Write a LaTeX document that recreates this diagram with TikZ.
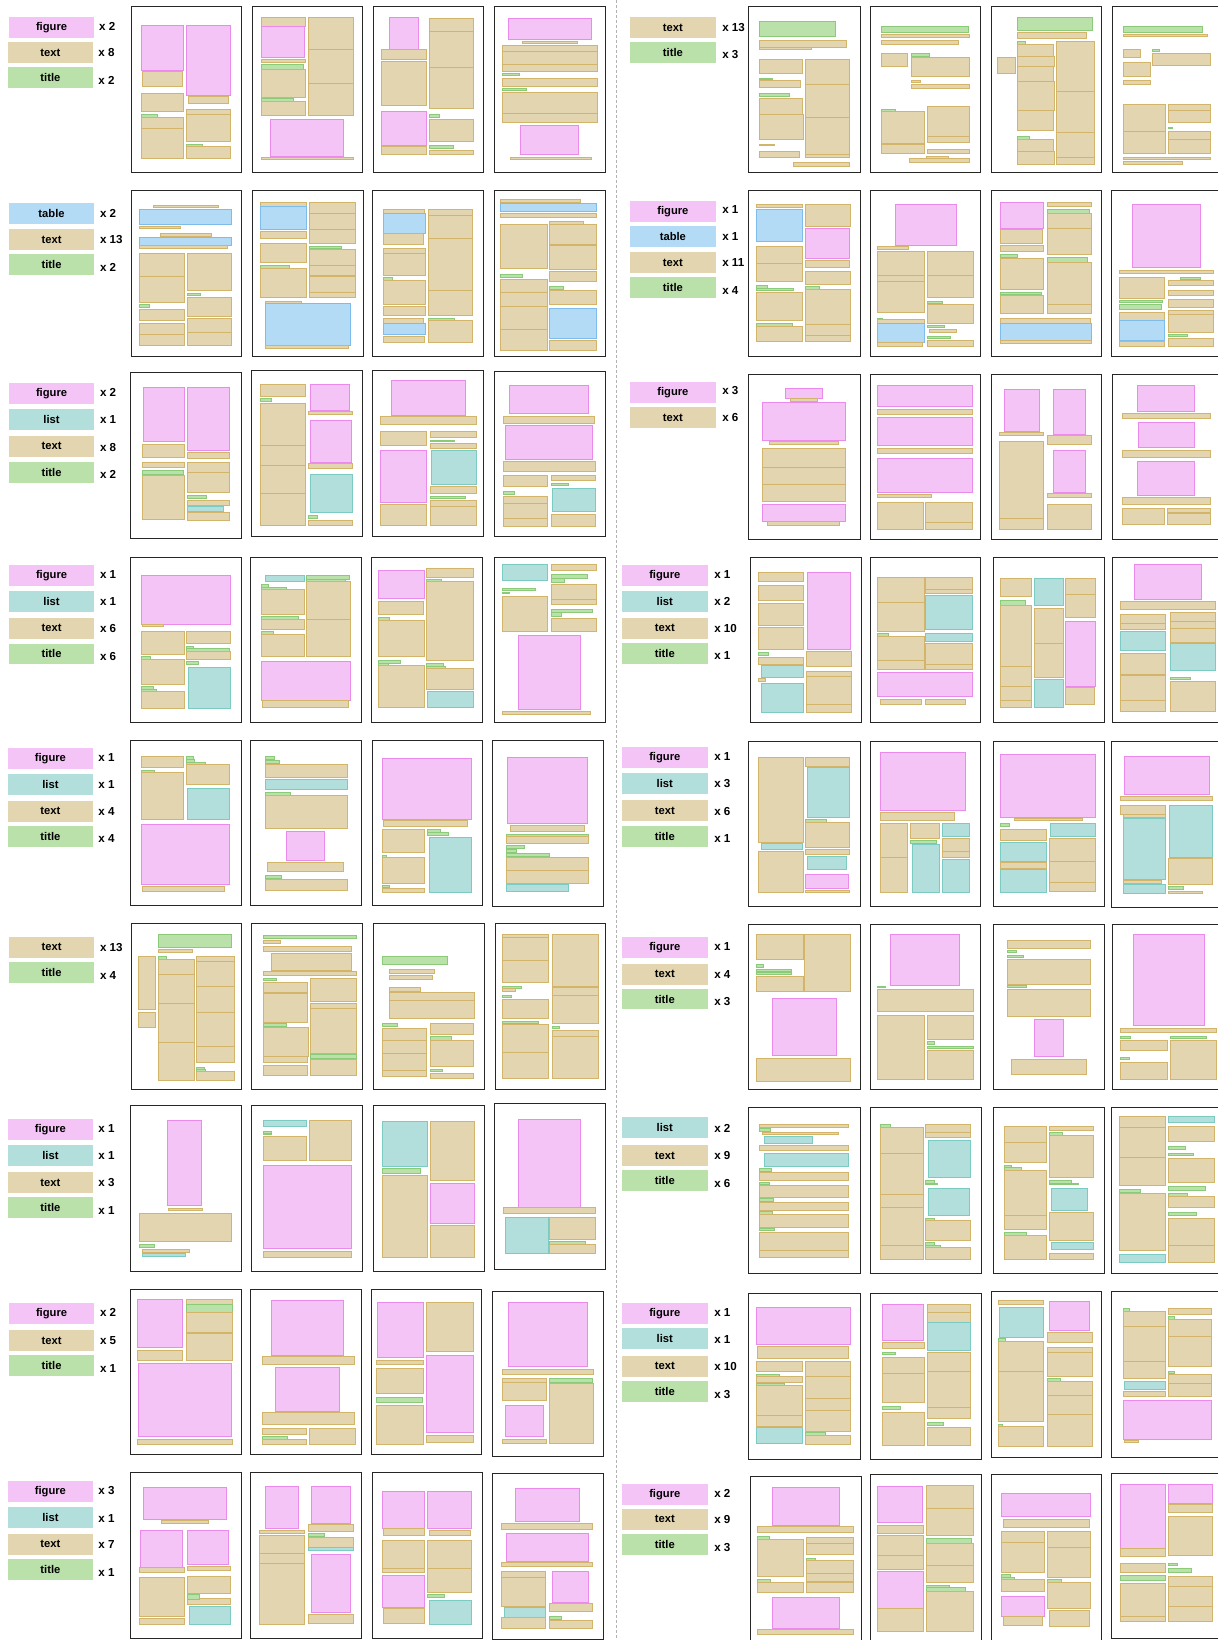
\documentclass[tikz,border=0pt]{standalone}
\usepackage{fontspec}
\setmainfont{Liberation Sans}
\definecolor{figF}{HTML}{F5C4F7}\definecolor{figD}{HTML}{EA8AEA}
\definecolor{txtF}{HTML}{E3D5AF}\definecolor{txtD}{HTML}{D2B46A}
\definecolor{ttlF}{HTML}{BBE1AB}\definecolor{ttlD}{HTML}{8ACA78}
\definecolor{lstF}{HTML}{B2DFDB}\definecolor{lstD}{HTML}{7CCBC3}
\definecolor{tabF}{HTML}{B3DBF6}\definecolor{tabD}{HTML}{7EBDEB}
\tikzset{
 spage/.style={draw=black!85,line width=0.5pt,fill=white},
 sfig/.style={fill=figF,draw=figD,line width=0.35pt},
 stxt/.style={fill=txtF,draw=txtD,line width=0.35pt},
 sttl/.style={fill=ttlF,draw=ttlD,line width=0.35pt},
 slst/.style={fill=lstF,draw=lstD,line width=0.35pt},
 stab/.style={fill=tabF,draw=tabD,line width=0.35pt},
 lfig/.style={fill=figF},ltxt/.style={fill=txtF},lttl/.style={fill=ttlF},
 llst/.style={fill=lstF},ltab/.style={fill=tabF},
 lbl/.style={font=\fontsize{5.6}{6.5}\selectfont\bfseries,inner sep=0pt},
 cnt/.style={font=\fontsize{5.8}{6.5}\selectfont\bfseries,inner sep=0pt,anchor=west},
 Lcol/.style={xscale=0.392157,yscale=0.333333},
 Rcol/.style={xscale=0.384615,yscale=0.333333}
}
\newcommand\xP[4]{\draw[spage] (#1,#2) rectangle (#3,#4);}
\newcommand\xF[4]{\filldraw[sfig] (#1,#2) rectangle (#3,#4);}
\newcommand\xT[4]{\filldraw[stxt] (#1,#2) rectangle (#3,#4);}
\newcommand\xG[4]{\filldraw[sttl] (#1,#2) rectangle (#3,#4);}
\newcommand\xL[4]{\filldraw[slst] (#1,#2) rectangle (#3,#4);}
\newcommand\xB[4]{\filldraw[stab] (#1,#2) rectangle (#3,#4);}
\newcommand\lgbox[7]{\fill[#2] (#3,#4) rectangle (#5,#6);
  \node[lbl] (#1) at ({(#3+#5)/2},{(#4+#6)/2}) {#7};}
\newcommand\lgcnt[4]{\node[cnt] (#1) at (#2,#3) {#4};}
\begin{document}
\begin{tikzpicture}[x=0.5pt,y=-0.5pt]
\useasboundingbox (0,0) rectangle (1217,1640);
\fill[white] (0,0) rectangle (1217,1640);
\draw[black!30,line width=0.5pt,dash pattern=on 1.5pt off 1pt] (616,0) -- (616,1640);
% ================= LEFT COLUMN =================
\begin{scope}[shift={(0,0)},Lcol]
\lgbox{a1}{lfig}{23}{52}{240}{113}{figure}\lgcnt{a1c}{252}{80}{x 2}
\lgbox{a2}{ltxt}{20}{127}{237}{188}{text}\lgcnt{a2c}{250}{157}{x 8}
\lgbox{a3}{lttl}{20}{202}{237}{263}{title}\lgcnt{a3c}{250}{240}{x 2}
\xP{335}{20}{617}{517}
\xF{360}{75}{468}{212}\xF{474}{75}{588}{287}\xT{362}{215}{466}{258}\xT{360}{280}{468}{335}
\xG{360}{342}{401}{352}\xT{360}{352}{468}{385}\xT{360}{385}{468}{475}\xT{480}{289}{583}{310}
\xT{474}{327}{588}{343}\xT{474}{343}{588}{425}\xG{474}{432}{517}{442}\xT{474}{440}{588}{475}
\xP{643}{20}{925}{517}
\xT{666}{52}{779}{80}\xF{666}{80}{777}{172}\xT{666}{177}{779}{188}\xG{666}{193}{774}{208}
\xT{666}{208}{779}{292}\xG{666}{295}{749}{304}\xT{666}{304}{779}{347}\xT{786}{52}{900}{148}
\xT{786}{148}{900}{250}\xT{786}{250}{900}{347}\xF{689}{358}{876}{470}\xT{666}{471}{900}{479}
\xP{952}{20}{1233}{517}
\xF{993}{52}{1066}{147}\xT{972}{148}{1086}{177}\xT{972}{184}{1086}{317}\xF{972}{334}{1086}{437}
\xT{972}{440}{1086}{464}\xT{1095}{55}{1207}{94}\xT{1095}{94}{1207}{202}\xT{1095}{202}{1207}{324}
\xG{1095}{343}{1121}{352}\xT{1095}{357}{1207}{425}\xG{1095}{436}{1157}{446}\xT{1095}{451}{1207}{464}
\xP{1261}{20}{1544}{517}
\xF{1296}{55}{1508}{119}\xT{1333}{125}{1471}{131}\xT{1281}{136}{1524}{154}\xT{1281}{154}{1524}{193}
\xT{1281}{193}{1524}{214}\xG{1281}{219}{1325}{227}\xT{1281}{235}{1524}{258}\xG{1281}{265}{1343}{270}
\xT{1281}{277}{1524}{340}\xT{1281}{340}{1524}{367}\xF{1328}{375}{1475}{463}\xT{1301}{471}{1507}{479}
% row 2
\lgbox{b1}{ltab}{23}{609}{240}{671}{table}\lgcnt{b1c}{254}{640}{x 2}
\lgbox{b2}{ltxt}{23}{688}{240}{749}{text}\lgcnt{b2c}{254}{718}{x 13}
\lgbox{b3}{lttl}{23}{763}{240}{825}{title}\lgcnt{b3c}{254}{802}{x 2}
\xP{335}{572}{617}{1068}
\xT{391}{616}{557}{623}\xB{355}{627}{591}{673}\xT{355}{678}{459}{684}\xT{409}{700}{540}{710}
\xB{355}{712}{591}{736}\xT{355}{736}{580}{745}\xT{355}{760}{469}{829}\xT{355}{829}{469}{907}
\xT{478}{760}{591}{871}\xG{478}{880}{510}{887}\xT{478}{891}{591}{949}\xG{355}{913}{381}{923}
\xT{355}{927}{469}{962}\xT{355}{970}{469}{1003}\xT{355}{1003}{469}{1037}\xT{478}{954}{591}{996}
\xT{478}{996}{591}{1037}
\xP{645}{572}{927}{1068}
\xT{664}{606}{780}{620}\xB{664}{620}{780}{689}\xT{664}{693}{780}{716}\xT{664}{731}{780}{788}
\xG{664}{797}{737}{804}\xT{664}{804}{780}{892}\xT{789}{606}{907}{640}\xT{789}{640}{907}{688}
\xT{789}{688}{907}{729}\xG{789}{738}{870}{745}\xT{789}{747}{907}{795}\xT{789}{795}{907}{825}
\xT{789}{828}{907}{876}\xT{789}{876}{907}{891}\xT{677}{903}{769}{910}\xB{677}{910}{893}{1036}
\xT{677}{1036}{889}{1044}
\xP{950}{572}{1233}{1068}
\xT{977}{627}{1083}{641}\xB{977}{641}{1085}{700}\xT{977}{700}{1079}{732}\xT{977}{744}{1085}{760}
\xT{977}{760}{1085}{825}\xG{977}{832}{1001}{841}\xT{977}{841}{1085}{914}\xT{977}{918}{1085}{946}
\xT{977}{955}{1079}{970}\xB{977}{970}{1085}{1004}\xT{977}{1008}{1083}{1027}\xT{1092}{627}{1205}{646}
\xT{1092}{646}{1205}{716}\xT{1092}{716}{1205}{871}\xT{1092}{871}{1205}{946}\xG{1092}{955}{1159}{962}
\xT{1092}{962}{1205}{1027}
\xP{1260}{572}{1544}{1068}
\xT{1277}{598}{1480}{608}\xB{1277}{611}{1520}{635}\xT{1277}{640}{1520}{651}\xT{1277}{672}{1395}{805}
\xG{1277}{824}{1333}{831}\xT{1277}{837}{1395}{877}\xT{1277}{877}{1395}{920}\xT{1277}{920}{1395}{988}
\xT{1277}{988}{1395}{1051}\xT{1402}{663}{1488}{672}\xT{1402}{672}{1520}{732}\xT{1402}{735}{1520}{809}
\xT{1402}{814}{1520}{844}\xG{1402}{860}{1437}{868}\xT{1402}{870}{1520}{913}\xB{1402}{926}{1520}{1016}
\xT{1402}{1020}{1520}{1051}
\end{scope}
\begin{scope}[shift={(0,362)},Lcol]
\lgbox{c1}{lfig}{23}{63}{240}{125}{figure}\lgcnt{c1c}{254}{90}{x 2}
\lgbox{c2}{llst}{23}{142}{240}{204}{list}\lgcnt{c2c}{254}{172}{x 1}
\lgbox{c3}{ltxt}{23}{222}{240}{284}{text}\lgcnt{c3c}{254}{255}{x 8}
\lgbox{c4}{lttl}{23}{300}{240}{362}{title}\lgcnt{c4c}{254}{336}{x 2}
\xP{333}{32}{615}{529}
\xF{365}{75}{471}{239}\xF{479}{75}{585}{265}\xT{362}{247}{471}{286}\xT{479}{270}{585}{290}
\xT{362}{300}{471}{317}\xG{362}{324}{468}{336}\xT{362}{339}{471}{472}\xT{479}{300}{585}{330}
\xT{479}{330}{585}{392}\xG{479}{401}{525}{410}\xT{479}{414}{585}{430}\xL{479}{432}{570}{449}
\xT{479}{452}{585}{475}
\xP{642}{25}{925}{522}
\xT{663}{67}{778}{102}\xG{663}{108}{692}{118}\xT{663}{125}{778}{250}\xT{663}{250}{778}{310}
\xT{663}{310}{778}{395}\xT{663}{395}{778}{490}\xF{791}{67}{891}{145}\xT{786}{148}{898}{158}
\xF{791}{176}{896}{302}\xT{786}{305}{898}{318}\xL{791}{336}{898}{452}\xG{786}{460}{810}{470}
\xT{786}{474}{898}{490}
\xP{950}{25}{1233}{522}
\xF{998}{55}{1187}{160}\xT{970}{163}{1215}{188}\xT{970}{207}{1088}{251}\xT{1097}{207}{1215}{227}
\xG{1097}{234}{1159}{239}\xT{1097}{245}{1215}{258}\xF{970}{265}{1086}{422}\xL{1100}{266}{1215}{368}
\xT{1097}{372}{1215}{394}\xG{1097}{402}{1187}{410}\xT{1097}{415}{1215}{432}\xT{970}{427}{1088}{490}
\xT{1097}{432}{1215}{490}
\xP{1261}{28}{1544}{522}
\xF{1300}{70}{1500}{155}\xT{1283}{163}{1516}{185}\xF{1289}{190}{1510}{292}\xT{1283}{297}{1518}{328}
\xT{1283}{340}{1396}{374}\xT{1405}{340}{1518}{355}\xG{1405}{363}{1449}{371}\xG{1283}{389}{1311}{398}
\xT{1283}{403}{1396}{425}\xT{1283}{425}{1396}{468}\xT{1283}{468}{1396}{492}\xL{1409}{378}{1518}{448}
\xT{1405}{457}{1518}{492}
% row 4
\lgbox{d1}{lfig}{23}{609}{240}{671}{figure}\lgcnt{d1c}{254}{637}{x 1}
\lgbox{d2}{llst}{23}{688}{240}{749}{list}\lgcnt{d2c}{254}{718}{x 1}
\lgbox{d3}{ltxt}{23}{768}{240}{830}{text}\lgcnt{d3c}{254}{800}{x 6}
\lgbox{d4}{lttl}{23}{845}{240}{906}{title}\lgcnt{d4c}{254}{882}{x 6}
\xP{333}{585}{615}{1080}
\xF{360}{640}{588}{787}\xT{362}{788}{416}{794}\xT{360}{809}{469}{877}\xT{475}{809}{588}{845}
\xG{475}{852}{494}{860}\xG{475}{860}{585}{868}\xT{475}{868}{588}{892}\xG{360}{883}{384}{892}
\xT{360}{892}{469}{967}\xG{475}{898}{506}{908}\xL{480}{915}{588}{1040}\xG{360}{972}{392}{982}
\xG{360}{982}{399}{987}\xT{360}{988}{469}{1040}
\xP{640}{585}{922}{1080}
\xL{676}{640}{775}{659}\xG{781}{640}{891}{651}\xG{781}{651}{881}{659}\xG{666}{667}{685}{677}
\xG{666}{677}{729}{683}\xT{666}{683}{775}{756}\xT{781}{659}{893}{771}\xT{781}{771}{893}{884}
\xG{666}{762}{760}{771}\xT{666}{771}{775}{803}\xG{666}{809}{696}{817}\xT{666}{817}{775}{884}
\xF{666}{898}{893}{1015}\xT{669}{1015}{888}{1035}
\xP{947}{585}{1230}{1080}
\xF{964}{625}{1083}{710}\xT{1087}{619}{1206}{645}\xG{1087}{652}{1126}{660}\xT{1087}{659}{1206}{894}
\xT{966}{717}{1079}{757}\xG{964}{766}{993}{776}\xT{964}{776}{1083}{883}\xG{964}{895}{1021}{903}
\xG{964}{903}{991}{911}\xT{964}{911}{1083}{1035}\xG{1087}{904}{1131}{912}\xG{1087}{912}{1135}{920}
\xT{1087}{920}{1206}{983}\xL{1090}{988}{1206}{1035}
\xP{1261}{585}{1544}{1080}
\xL{1282}{608}{1396}{656}\xT{1405}{608}{1520}{626}\xG{1405}{636}{1498}{648}\xG{1405}{648}{1440}{660}
\xG{1281}{679}{1366}{684}\xG{1281}{690}{1300}{695}\xT{1281}{703}{1396}{808}\xT{1405}{666}{1520}{711}
\xT{1405}{711}{1520}{727}\xG{1405}{743}{1511}{750}\xG{1405}{752}{1432}{763}\xT{1405}{768}{1520}{808}
\xF{1321}{820}{1480}{1042}\xT{1281}{1047}{1506}{1057}
\end{scope}
\begin{scope}[shift={(0,732)},Lcol]
\lgbox{e1}{lfig}{20}{48}{237}{110}{figure}\lgcnt{e1c}{250}{75}{x 1}
\lgbox{e2}{llst}{20}{126}{237}{188}{list}\lgcnt{e2c}{250}{157}{x 1}
\lgbox{e3}{ltxt}{20}{207}{237}{269}{text}\lgcnt{e3c}{250}{238}{x 4}
\lgbox{e4}{lttl}{20}{283}{237}{344}{title}\lgcnt{e4c}{250}{320}{x 4}
\xP{333}{25}{615}{520}
\xT{360}{72}{468}{106}\xG{475}{72}{494}{82}\xG{475}{82}{496}{90}\xG{475}{90}{523}{98}
\xT{475}{97}{585}{157}\xG{360}{114}{394}{122}\xT{360}{121}{468}{262}\xL{479}{168}{585}{262}
\xF{360}{277}{585}{457}\xT{362}{462}{573}{477}
\xP{640}{25}{922}{520}
\xG{676}{72}{700}{83}\xG{676}{86}{713}{95}\xT{676}{97}{885}{137}\xL{676}{141}{885}{173}
\xG{676}{180}{740}{189}\xT{676}{191}{885}{290}\xF{729}{297}{828}{385}\xT{683}{391}{876}{418}
\xG{676}{430}{718}{440}\xT{676}{442}{885}{474}
\xP{949}{25}{1231}{520}
\xF{975}{78}{1202}{263}\xT{977}{266}{1191}{282}\xT{975}{293}{1083}{361}\xG{1090}{293}{1123}{301}
\xG{1090}{301}{1144}{311}\xL{1095}{317}{1202}{481}\xG{975}{370}{985}{377}\xT{975}{377}{1083}{455}
\xG{975}{461}{993}{467}\xT{975}{468}{1083}{481}
\xP{1256}{25}{1538}{522}
\xF{1294}{75}{1498}{274}\xT{1301}{279}{1491}{298}\xG{1292}{306}{1500}{314}\xT{1292}{314}{1500}{334}
\xG{1292}{340}{1338}{350}\xG{1292}{352}{1317}{362}\xG{1292}{363}{1401}{373}\xT{1292}{375}{1500}{415}
\xT{1292}{415}{1500}{455}\xL{1292}{457}{1450}{478}
% row 6
\lgbox{f1}{ltxt}{23}{615}{240}{677}{text}\lgcnt{f1c}{254}{646}{x 13}
\lgbox{f2}{lttl}{23}{690}{240}{752}{title}\lgcnt{f2c}{254}{729}{x 4}
\xP{335}{575}{617}{1072}
\xG{403}{606}{590}{646}\xT{403}{652}{491}{661}\xT{352}{673}{397}{832}\xT{352}{840}{397}{887}
\xG{403}{673}{423}{681}\xT{403}{681}{496}{727}\xT{403}{727}{496}{813}\xT{403}{813}{496}{931}
\xT{403}{931}{496}{1046}\xT{500}{673}{597}{688}\xT{500}{688}{597}{762}\xT{500}{762}{597}{842}
\xT{500}{842}{597}{943}\xT{500}{943}{597}{991}\xG{500}{1005}{520}{1012}\xG{500}{1012}{524}{1017}
\xT{500}{1017}{597}{1046}
\xP{642}{575}{925}{1072}
\xG{671}{609}{909}{619}\xT{671}{625}{715}{635}\xT{671}{642}{896}{657}\xT{691}{665}{896}{715}
\xT{671}{718}{909}{731}\xG{671}{738}{705}{746}\xT{671}{750}{784}{782}\xT{671}{785}{784}{870}
\xG{671}{874}{730}{884}\xT{671}{885}{787}{972}\xT{671}{972}{784}{991}\xT{671}{1001}{784}{1030}
\xT{792}{738}{909}{808}\xT{792}{813}{909}{828}\xT{792}{828}{909}{963}\xG{792}{966}{909}{979}
\xT{792}{983}{909}{1030}
\xP{952}{575}{1235}{1072}
\xG{975}{672}{1142}{696}\xT{992}{713}{1107}{724}\xT{992}{731}{1103}{743}\xT{992}{767}{1072}{778}
\xT{992}{780}{1209}{806}\xT{992}{806}{1209}{859}\xG{975}{874}{1013}{884}\xT{975}{888}{1087}{925}
\xT{975}{925}{1087}{963}\xT{975}{963}{1087}{1015}\xT{975}{1015}{1087}{1033}\xT{1097}{873}{1207}{908}
\xG{1097}{913}{1151}{925}\xT{1097}{925}{1207}{1003}\xG{1097}{1011}{1127}{1019}\xT{1097}{1023}{1207}{1039}
\xP{1263}{575}{1545}{1072}
\xT{1281}{606}{1399}{617}\xT{1281}{617}{1399}{685}\xT{1281}{685}{1399}{751}\xG{1281}{762}{1329}{768}
\xT{1281}{768}{1315}{779}\xG{1281}{790}{1304}{795}\xT{1281}{801}{1399}{860}\xG{1281}{868}{1373}{875}
\xT{1281}{878}{1399}{960}\xT{1281}{960}{1399}{1038}\xT{1408}{606}{1526}{762}\xT{1408}{766}{1526}{790}
\xT{1408}{790}{1526}{875}\xG{1408}{882}{1427}{888}\xT{1408}{895}{1526}{913}\xT{1408}{913}{1526}{1038}
\end{scope}
\begin{scope}[shift={(0,1097)},Lcol]
\lgbox{g1}{lfig}{20}{66}{237}{128}{figure}\lgcnt{g1c}{250}{93}{x 1}
\lgbox{g2}{llst}{20}{144}{237}{206}{list}\lgcnt{g2c}{250}{174}{x 1}
\lgbox{g3}{ltxt}{20}{226}{237}{288}{text}\lgcnt{g3c}{250}{256}{x 3}
\lgbox{g4}{lttl}{20}{300}{237}{362}{title}\lgcnt{g4c}{250}{340}{x 1}
\xP{333}{26}{615}{522}
\xF{427}{69}{514}{326}\xT{429}{334}{517}{341}\xT{355}{349}{590}{434}\xG{355}{441}{394}{451}
\xT{362}{457}{482}{467}\xL{362}{468}{473}{478}
\xP{642}{26}{925}{522}
\xL{671}{69}{780}{89}\xG{671}{102}{691}{108}\xG{671}{108}{691}{113}\xT{671}{117}{780}{190}
\xT{789}{69}{897}{190}\xF{671}{205}{897}{455}\xT{671}{462}{897}{482}
\xP{952}{26}{1235}{522}
\xL{975}{72}{1089}{208}\xG{975}{213}{1071}{229}\xT{975}{236}{1089}{482}\xT{1097}{72}{1209}{251}
\xF{1097}{258}{1209}{380}\xT{1097}{384}{1209}{482}
\xP{1260}{20}{1544}{516}
\xF{1321}{67}{1481}{330}\xT{1283}{331}{1519}{348}\xL{1289}{362}{1399}{469}\xT{1402}{362}{1519}{428}
\xG{1402}{434}{1492}{443}\xT{1402}{441}{1519}{469}
% row 8
\lgbox{h1}{lfig}{23}{619}{240}{680}{figure}\lgcnt{h1c}{254}{646}{x 2}
\lgbox{h2}{ltxt}{23}{700}{240}{762}{text}\lgcnt{h2c}{254}{731}{x 5}
\lgbox{h3}{lttl}{23}{775}{240}{837}{title}\lgcnt{h3c}{254}{813}{x 1}
\xP{333}{577}{615}{1073}
\xF{350}{607}{465}{752}\xT{350}{760}{466}{790}\xT{474}{607}{593}{623}\xG{474}{623}{593}{645}
\xT{474}{645}{593}{706}\xT{474}{709}{593}{790}\xF{352}{798}{590}{1019}\xT{350}{1027}{593}{1042}
\xP{640}{577}{922}{1073}
\xF{693}{610}{875}{776}\xT{669}{779}{904}{802}\xF{702}{811}{866}{944}\xT{669}{946}{904}{982}
\xT{669}{994}{782}{1013}\xG{669}{1018}{733}{1028}\xT{669}{1028}{782}{1042}\xT{790}{994}{907}{1042}
\xP{947}{577}{1229}{1073}
\xF{961}{615}{1079}{782}\xT{959}{790}{1079}{803}\xT{959}{814}{1079}{890}\xG{959}{901}{1077}{917}
\xT{959}{924}{1079}{1042}\xT{1087}{615}{1207}{764}\xF{1087}{774}{1207}{1007}\xT{1087}{1014}{1207}{1037}
\xP{1257}{584}{1540}{1079}
\xF{1296}{616}{1497}{808}\xT{1281}{817}{1512}{833}\xT{1281}{843}{1392}{855}\xT{1281}{855}{1392}{910}
\xG{1401}{843}{1511}{855}\xT{1401}{858}{1512}{1040}\xF{1289}{925}{1386}{1018}\xT{1281}{1027}{1392}{1040}
\end{scope}
\begin{scope}[shift={(0,1462)},Lcol]
\lgbox{i1}{lfig}{20}{57}{237}{119}{figure}\lgcnt{i1c}{250}{85}{x 3}
\lgbox{i2}{llst}{20}{136}{237}{197}{list}\lgcnt{i2c}{250}{168}{x 1}
\lgbox{i3}{ltxt}{20}{216}{237}{278}{text}\lgcnt{i3c}{250}{246}{x 7}
\lgbox{i4}{lttl}{20}{292}{237}{353}{title}\lgcnt{i4c}{250}{330}{x 1}
\xP{333}{32}{615}{529}
\xF{365}{75}{578}{173}\xT{412}{175}{532}{185}\xF{357}{204}{466}{315}\xT{355}{316}{469}{330}
\xF{477}{204}{583}{308}\xT{477}{313}{588}{326}\xT{355}{345}{469}{462}\xT{355}{468}{469}{488}
\xT{477}{343}{588}{395}\xT{477}{408}{588}{426}\xG{477}{396}{508}{411}\xL{482}{432}{588}{488}
\xP{640}{32}{922}{529}
\xF{677}{72}{762}{200}\xT{661}{204}{777}{215}\xT{661}{220}{777}{275}\xT{661}{275}{777}{305}
\xT{661}{305}{777}{488}\xF{793}{72}{894}{185}\xT{786}{188}{902}{209}\xG{786}{214}{828}{223}
\xT{786}{227}{902}{256}\xL{786}{256}{902}{266}\xF{795}{277}{894}{452}\xT{786}{457}{902}{484}
\xP{949}{32}{1231}{529}
\xF{975}{88}{1083}{200}\xF{1089}{88}{1202}{200}\xT{977}{200}{1081}{220}\xT{1095}{204}{1200}{220}
\xT{975}{235}{1083}{318}\xT{975}{318}{1083}{332}\xT{1089}{235}{1202}{318}\xT{1089}{318}{1202}{392}
\xF{975}{340}{1083}{437}\xG{1089}{397}{1134}{407}\xT{977}{440}{1081}{484}\xL{1095}{414}{1202}{488}
\xP{1256}{35}{1538}{532}
\xF{1314}{78}{1478}{179}\xT{1278}{184}{1511}{203}\xF{1292}{213}{1500}{297}\xT{1278}{300}{1511}{312}
\xT{1278}{327}{1391}{347}\xT{1278}{347}{1391}{434}\xF{1408}{327}{1500}{421}\xL{1286}{436}{1391}{465}
\xT{1400}{424}{1511}{449}\xG{1400}{462}{1431}{472}\xT{1278}{466}{1391}{500}\xT{1400}{474}{1511}{500}
\end{scope}
% ================= RIGHT COLUMN =================
\begin{scope}[shift={(615,0)},Rcol]
\lgbox{j1}{ltxt}{39}{52}{262}{113}{text}\lgcnt{j1c}{278}{82}{x 13}
\lgbox{j2}{lttl}{39}{127}{262}{188}{title}\lgcnt{j2c}{278}{165}{x 3}
\xP{348}{20}{637}{517}
\xG{375}{64}{572}{110}\xT{375}{121}{601}{141}\xT{375}{141}{510}{149}\xT{375}{178}{486}{221}
\xG{375}{234}{408}{239}\xT{375}{242}{481}{263}\xG{375}{280}{452}{290}\xT{375}{296}{486}{343}
\xT{375}{343}{489}{418}\xT{375}{432}{413}{437}\xT{375}{455}{478}{472}\xT{495}{178}{610}{253}
\xT{495}{253}{610}{352}\xT{495}{352}{610}{463}\xT{495}{463}{610}{472}\xT{464}{487}{610}{499}
\xP{663}{20}{951}{517}
\xG{693}{78}{918}{97}\xT{693}{102}{921}{113}\xT{693}{120}{892}{134}\xT{693}{160}{760}{199}
\xG{771}{160}{817}{169}\xT{771}{172}{921}{229}\xT{771}{242}{793}{246}\xT{771}{252}{921}{266}
\xG{693}{327}{729}{333}\xT{693}{334}{804}{430}\xT{693}{432}{804}{461}\xT{812}{319}{921}{409}
\xT{812}{409}{921}{428}\xT{812}{448}{921}{461}\xT{810}{470}{866}{475}\xT{764}{475}{921}{487}
\xP{978}{20}{1266}{517}
\xG{1047}{52}{1240}{90}\xT{1047}{98}{1225}{114}\xG{1047}{125}{1067}{133}\xT{995}{172}{1040}{221}
\xT{1047}{133}{1140}{170}\xT{1047}{170}{1142}{200}\xT{1047}{200}{1140}{245}\xT{1047}{245}{1142}{331}
\xT{1047}{331}{1140}{390}\xG{1047}{408}{1076}{418}\xT{1047}{418}{1140}{455}\xT{1047}{455}{1142}{492}
\xT{1147}{125}{1245}{273}\xT{1147}{273}{1245}{396}\xT{1147}{396}{1245}{472}\xT{1147}{472}{1245}{492}
\xP{1294}{20}{1585}{517}
\xG{1321}{78}{1528}{97}\xT{1321}{102}{1540}{110}\xT{1321}{148}{1365}{172}\xG{1398}{148}{1416}{154}
\xT{1398}{159}{1548}{197}\xT{1321}{186}{1392}{230}\xT{1321}{241}{1392}{254}\xT{1321}{313}{1430}{393}
\xT{1321}{393}{1430}{460}\xT{1438}{313}{1548}{330}\xT{1438}{330}{1548}{367}\xG{1438}{381}{1450}{386}
\xT{1438}{394}{1548}{417}\xT{1438}{417}{1548}{460}\xT{1321}{471}{1548}{479}\xT{1321}{483}{1476}{493}
% row 2
\lgbox{k1}{lfig}{39}{603}{262}{665}{figure}\lgcnt{k1c}{278}{630}{x 1}
\lgbox{k2}{ltab}{39}{679}{262}{741}{table}\lgcnt{k2c}{278}{711}{x 1}
\lgbox{k3}{ltxt}{39}{757}{262}{819}{text}\lgcnt{k3c}{278}{787}{x 11}
\lgbox{k4}{lttl}{39}{832}{262}{894}{title}\lgcnt{k4c}{278}{871}{x 4}
\xP{348}{572}{637}{1068}
\xT{368}{612}{486}{623}\xB{368}{627}{486}{724}\xT{368}{739}{486}{790}\xT{368}{790}{486}{844}
\xG{368}{856}{397}{864}\xG{368}{864}{463}{871}\xT{368}{876}{486}{962}\xG{368}{970}{460}{980}
\xT{368}{980}{486}{1024}\xT{495}{612}{613}{679}\xF{495}{685}{610}{775}\xT{495}{780}{610}{803}
\xT{495}{813}{613}{854}\xG{495}{860}{532}{868}\xT{495}{868}{613}{973}\xT{495}{973}{613}{1007}
\xT{495}{1007}{613}{1024}
\xP{663}{572}{951}{1068}
\xF{729}{612}{887}{737}\xT{683}{739}{762}{749}\xT{683}{754}{804}{825}\xT{683}{825}{804}{845}
\xT{683}{845}{804}{937}\xT{812}{754}{931}{825}\xT{812}{825}{931}{891}\xG{812}{903}{851}{909}
\xT{812}{913}{931}{970}\xG{683}{955}{694}{960}\xT{683}{958}{804}{970}\xB{683}{970}{804}{1028}
\xT{683}{1028}{800}{1039}\xG{812}{975}{856}{981}\xT{816}{988}{887}{998}\xG{812}{1008}{873}{1016}
\xT{812}{1020}{931}{1039}
\xP{978}{572}{1266}{1068}
\xF{1001}{607}{1114}{686}\xT{1001}{688}{1112}{729}\xT{1001}{735}{1114}{755}\xG{1001}{763}{1045}{772}
\xT{1001}{775}{1114}{869}\xG{1001}{876}{1109}{884}\xT{1001}{886}{1114}{941}\xT{1123}{607}{1238}{620}
\xG{1123}{628}{1233}{640}\xT{1123}{640}{1238}{685}\xT{1123}{685}{1238}{764}\xG{1123}{772}{1228}{788}
\xT{1123}{788}{1238}{914}\xT{1123}{914}{1238}{941}\xT{1001}{955}{1236}{971}\xB{1001}{971}{1238}{1022}
\xT{1001}{1022}{1238}{1030}
\xP{1291}{572}{1585}{1068}
\xF{1344}{612}{1522}{802}\xT{1310}{810}{1555}{820}\xG{1470}{832}{1521}{838}\xT{1438}{840}{1555}{857}
\xT{1310}{831}{1427}{895}\xG{1310}{900}{1424}{908}\xG{1310}{912}{1421}{927}\xT{1438}{870}{1555}{885}
\xT{1438}{898}{1555}{922}\xT{1438}{930}{1555}{944}\xT{1438}{944}{1555}{996}\xT{1310}{936}{1427}{962}
\xB{1310}{962}{1427}{1021}\xT{1310}{1023}{1427}{1039}\xG{1438}{1003}{1487}{1009}\xT{1438}{1016}{1555}{1039}
\end{scope}
\begin{scope}[shift={(615,362)},Rcol]
\lgbox{l1}{lfig}{39}{60}{262}{122}{figure}\lgcnt{l1c}{278}{87}{x 3}
\lgbox{l2}{ltxt}{39}{136}{262}{197}{text}\lgcnt{l2c}{278}{166}{x 6}
\xP{348}{37}{637}{533}
\xF{443}{78}{538}{110}\xT{455}{110}{527}{118}\xF{384}{121}{598}{236}\xT{401}{238}{580}{248}
\xT{383}{259}{598}{316}\xT{383}{316}{598}{368}\xT{383}{368}{598}{419}\xF{383}{427}{598}{479}
\xT{397}{479}{584}{490}
\xP{663}{37}{951}{533}
\xF{681}{70}{928}{133}\xT{681}{142}{928}{158}\xF{681}{166}{928}{251}\xT{681}{259}{928}{274}
\xF{681}{289}{928}{392}\xT{681}{397}{822}{407}\xT{681}{422}{802}{502}\xT{808}{422}{928}{481}
\xT{808}{481}{928}{502}
\xP{978}{37}{1266}{533}
\xF{1012}{82}{1103}{208}\xT{999}{211}{1114}{220}\xT{999}{238}{1114}{469}\xT{999}{469}{1114}{502}
\xF{1139}{82}{1223}{217}\xT{1124}{220}{1239}{247}\xF{1139}{265}{1223}{392}\xT{1124}{395}{1239}{407}
\xT{1124}{427}{1239}{502}
\xP{1294}{37}{1585}{533}
\xF{1358}{70}{1507}{148}\xT{1319}{153}{1549}{170}\xF{1361}{180}{1507}{256}\xT{1319}{265}{1549}{286}
\xF{1358}{297}{1507}{399}\xT{1319}{405}{1549}{428}\xT{1319}{438}{1429}{487}\xT{1436}{438}{1549}{450}
\xT{1436}{453}{1549}{487}
% row 4
\lgbox{m1}{lfig}{18}{609}{241}{671}{figure}\lgcnt{m1c}{257}{637}{x 1}
\lgbox{m2}{llst}{18}{688}{241}{749}{list}\lgcnt{m2c}{257}{718}{x 2}
\lgbox{m3}{ltxt}{18}{768}{241}{830}{text}\lgcnt{m3c}{257}{800}{x 10}
\lgbox{m4}{lttl}{18}{843}{241}{905}{title}\lgcnt{m4c}{257}{882}{x 1}
\xP{351}{587}{640}{1082}
\xT{373}{630}{490}{658}\xT{373}{670}{490}{716}\xT{373}{724}{490}{790}\xT{373}{797}{490}{863}
\xG{373}{871}{398}{880}\xT{373}{887}{490}{907}\xL{381}{910}{490}{946}\xT{373}{950}{390}{957}
\xL{381}{964}{490}{1050}\xF{500}{630}{612}{862}\xT{498}{867}{614}{913}\xT{498}{929}{614}{944}
\xT{498}{944}{614}{1028}\xT{498}{1028}{614}{1050}
\xP{663}{585}{951}{1080}
\xT{683}{646}{804}{722}\xT{683}{722}{804}{808}\xG{683}{813}{710}{822}\xT{683}{822}{804}{895}
\xT{683}{895}{804}{922}\xT{808}{646}{928}{683}\xT{808}{683}{928}{694}\xL{808}{700}{928}{802}
\xL{808}{814}{928}{837}\xT{808}{844}{928}{907}\xT{808}{907}{928}{922}\xF{683}{931}{928}{1004}
\xT{689}{1012}{796}{1028}\xT{808}{1012}{911}{1028}
\xP{985}{587}{1273}{1082}
\xT{1003}{650}{1083}{703}\xG{1003}{715}{1067}{731}\xT{1003}{731}{1083}{914}\xT{1003}{914}{1083}{972}
\xT{1003}{972}{1083}{1014}\xT{1003}{1014}{1083}{1036}\xL{1089}{650}{1166}{731}\xT{1089}{739}{1166}{845}
\xT{1089}{845}{1166}{946}\xL{1089}{952}{1166}{1036}\xT{1170}{650}{1250}{697}\xT{1170}{697}{1250}{767}
\xF{1170}{777}{1250}{972}\xT{1170}{975}{1245}{1027}
\xP{1294}{585}{1585}{1080}
\xF{1349}{607}{1525}{712}\xT{1314}{717}{1560}{742}\xT{1314}{757}{1430}{785}\xT{1314}{785}{1430}{803}
\xL{1314}{809}{1430}{865}\xT{1314}{873}{1430}{936}\xT{1314}{939}{1430}{1014}\xT{1314}{1014}{1430}{1048}
\xT{1443}{750}{1560}{778}\xT{1443}{778}{1560}{800}\xT{1443}{800}{1560}{842}\xL{1443}{845}{1560}{925}
\xG{1443}{946}{1497}{953}\xT{1443}{957}{1560}{1048}
\end{scope}
\begin{scope}[shift={(615,732)},Rcol]
\lgbox{n1}{lfig}{18}{45}{241}{107}{figure}\lgcnt{n1c}{257}{72}{x 1}
\lgbox{n2}{llst}{18}{123}{241}{185}{list}\lgcnt{n2c}{257}{156}{x 3}
\lgbox{n3}{ltxt}{18}{205}{241}{266}{text}\lgcnt{n3c}{257}{237}{x 6}
\lgbox{n4}{lttl}{18}{283}{241}{344}{title}\lgcnt{n4c}{257}{318}{x 1}
\xP{348}{27}{637}{522}
\xT{373}{75}{490}{330}\xL{381}{334}{486}{352}\xT{373}{357}{490}{481}\xT{495}{75}{608}{102}
\xL{500}{106}{608}{256}\xG{495}{263}{549}{272}\xT{495}{270}{608}{346}\xT{495}{352}{608}{368}
\xL{500}{372}{601}{411}\xF{495}{427}{606}{469}\xT{495}{474}{608}{481}
\xP{663}{27}{951}{522}
\xF{691}{61}{912}{236}\xT{691}{240}{882}{264}\xT{691}{273}{760}{376}\xT{691}{376}{760}{481}
\xT{769}{273}{842}{320}\xG{769}{324}{835}{335}\xL{772}{337}{842}{481}\xL{850}{273}{921}{314}
\xT{850}{318}{921}{357}\xT{850}{357}{921}{377}\xL{850}{381}{921}{481}
\xP{985}{27}{1273}{522}
\xF{1003}{67}{1248}{256}\xT{1038}{259}{1214}{266}\xG{1003}{273}{1025}{284}\xT{1003}{291}{1121}{326}
\xL{1003}{330}{1121}{388}\xT{1003}{390}{1121}{410}\xL{1003}{411}{1121}{481}\xL{1133}{273}{1248}{314}
\xT{1128}{318}{1248}{388}\xT{1128}{388}{1248}{451}\xT{1128}{451}{1248}{477}
\xP{1292}{27}{1585}{525}
\xF{1324}{72}{1544}{188}\xT{1314}{192}{1553}{206}\xT{1314}{219}{1430}{248}\xT{1322}{248}{1430}{256}
\xL{1322}{258}{1430}{443}\xT{1322}{445}{1421}{455}\xL{1322}{456}{1430}{485}\xL{1440}{219}{1553}{377}
\xT{1438}{380}{1553}{457}\xG{1438}{464}{1478}{472}\xT{1438}{478}{1528}{485}
% row 6
\lgbox{o1}{lfig}{18}{615}{241}{677}{figure}\lgcnt{o1c}{257}{642}{x 1}
\lgbox{o2}{ltxt}{18}{696}{241}{758}{text}\lgcnt{o2c}{257}{727}{x 4}
\lgbox{o3}{lttl}{18}{771}{241}{832}{title}\lgcnt{o3c}{257}{810}{x 3}
\xP{348}{577}{637}{1073}
\xT{368}{606}{490}{683}\xT{493}{606}{613}{778}\xG{368}{696}{386}{706}\xG{368}{711}{458}{718}
\xG{368}{720}{458}{728}\xT{368}{733}{490}{778}\xF{410}{798}{575}{970}\xT{368}{979}{613}{1049}
\xP{663}{577}{951}{1073}
\xF{717}{606}{895}{760}\xG{683}{762}{703}{767}\xT{683}{771}{931}{838}\xT{683}{850}{804}{1042}
\xT{812}{850}{931}{922}\xG{812}{928}{830}{936}\xG{812}{943}{931}{948}\xT{812}{955}{931}{1042}
\xP{985}{577}{1273}{1073}
\xT{1021}{625}{1235}{650}\xG{1021}{655}{1043}{662}\xG{1021}{670}{1062}{677}\xT{1021}{682}{1235}{757}
\xG{1021}{760}{1070}{766}\xT{1021}{772}{1235}{853}\xF{1090}{862}{1166}{973}\xT{1030}{982}{1226}{1026}
\xP{1294}{577}{1585}{1073}
\xF{1348}{606}{1533}{881}\xT{1314}{888}{1563}{901}\xG{1314}{913}{1340}{918}\xG{1443}{913}{1538}{918}
\xT{1314}{925}{1435}{956}\xG{1314}{975}{1338}{982}\xT{1314}{990}{1435}{1042}\xT{1443}{925}{1563}{1042}
\end{scope}
\begin{scope}[shift={(615,1097)},Rcol]
\lgbox{p1}{llst}{18}{60}{241}{122}{list}\lgcnt{p1c}{257}{93}{x 2}
\lgbox{p2}{ltxt}{18}{145}{241}{206}{text}\lgcnt{p2c}{257}{176}{x 9}
\lgbox{p3}{lttl}{18}{220}{241}{282}{title}\lgcnt{p3c}{257}{258}{x 6}
\xP{348}{32}{637}{528}
\xT{376}{82}{606}{91}\xG{376}{95}{403}{103}\xT{384}{105}{580}{111}\xL{389}{118}{512}{138}
\xT{376}{145}{606}{160}\xL{389}{168}{606}{208}\xG{376}{214}{407}{223}\xT{376}{227}{606}{250}
\xG{376}{256}{400}{263}\xT{376}{265}{606}{300}\xG{376}{304}{411}{313}\xT{376}{316}{606}{340}
\xG{376}{343}{410}{352}\xT{376}{352}{606}{391}\xG{376}{394}{413}{401}\xT{376}{405}{606}{460}
\xT{376}{460}{606}{482}
\xP{665}{32}{953}{528}
\xG{691}{82}{717}{92}\xT{691}{92}{801}{168}\xT{691}{168}{801}{293}\xT{691}{293}{801}{331}
\xT{691}{331}{801}{445}\xT{691}{445}{801}{488}\xT{808}{82}{923}{106}\xT{808}{106}{923}{122}
\xL{814}{130}{923}{242}\xG{808}{250}{830}{258}\xG{808}{258}{838}{262}\xL{814}{274}{921}{355}
\xG{808}{364}{830}{369}\xT{808}{370}{923}{431}\xG{808}{436}{830}{444}\xG{808}{444}{846}{452}
\xT{808}{452}{923}{488}
\xP{985}{32}{1273}{528}
\xT{1012}{87}{1122}{137}\xT{1012}{137}{1122}{196}\xG{1012}{204}{1030}{212}\xG{1012}{212}{1057}{219}
\xT{1012}{219}{1122}{355}\xT{1012}{355}{1122}{397}\xG{1012}{405}{1069}{414}\xT{1012}{414}{1122}{488}
\xT{1128}{87}{1243}{100}\xG{1128}{105}{1163}{115}\xT{1128}{115}{1243}{242}\xG{1128}{250}{1187}{258}
\xG{1128}{258}{1205}{262}\xL{1134}{273}{1228}{340}\xT{1128}{346}{1243}{431}\xL{1134}{436}{1243}{457}
\xT{1128}{468}{1243}{488}
\xP{1292}{32}{1585}{528}
\xT{1311}{59}{1432}{92}\xT{1311}{92}{1432}{182}\xT{1311}{182}{1432}{266}\xG{1311}{277}{1366}{286}
\xT{1311}{289}{1432}{460}\xL{1311}{471}{1432}{496}\xL{1438}{59}{1557}{77}\xT{1438}{87}{1557}{133}
\xG{1438}{148}{1483}{157}\xG{1438}{168}{1504}{176}\xT{1438}{183}{1557}{256}\xG{1438}{269}{1536}{280}
\xG{1438}{289}{1489}{298}\xT{1438}{298}{1557}{331}\xG{1438}{346}{1511}{355}\xT{1438}{363}{1557}{445}
\xT{1438}{445}{1557}{496}
% row 8
\lgbox{q1}{lfig}{18}{618}{241}{680}{figure}\lgcnt{q1c}{257}{645}{x 1}
\lgbox{q2}{llst}{18}{693}{241}{755}{list}\lgcnt{q2c}{257}{726}{x 1}
\lgbox{q3}{ltxt}{18}{777}{241}{839}{text}\lgcnt{q3c}{257}{807}{x 10}
\lgbox{q4}{lttl}{18}{852}{241}{914}{title}\lgcnt{q4c}{257}{891}{x 3}
\xP{348}{590}{637}{1086}
\xF{368}{630}{612}{742}\xT{371}{748}{607}{784}\xT{368}{792}{486}{823}\xG{368}{831}{428}{839}
\xT{368}{839}{486}{856}\xG{368}{858}{440}{866}\xT{368}{866}{486}{955}\xT{368}{955}{486}{988}
\xL{368}{990}{486}{1040}\xT{495}{792}{613}{837}\xT{495}{837}{613}{904}\xT{495}{904}{613}{940}
\xT{495}{940}{613}{1003}\xG{495}{1006}{546}{1015}\xT{495}{1015}{613}{1042}
\xP{665}{590}{953}{1086}
\xF{694}{622}{801}{730}\xT{694}{735}{804}{755}\xG{694}{766}{730}{773}\xT{694}{781}{804}{828}
\xT{694}{828}{804}{916}\xG{694}{928}{741}{937}\xT{694}{945}{804}{1045}\xT{813}{622}{923}{645}
\xT{813}{645}{923}{675}\xL{813}{677}{923}{761}\xT{813}{765}{923}{823}\xT{813}{823}{923}{931}
\xT{813}{931}{923}{964}\xG{813}{975}{853}{984}\xT{813}{991}{923}{1045}
\xP{978}{584}{1266}{1080}
\xT{996}{610}{1114}{623}\xL{998}{630}{1114}{720}\xG{996}{723}{1014}{733}\xT{996}{733}{1114}{822}
\xT{996}{822}{1114}{972}\xG{996}{982}{1006}{989}\xT{996}{989}{1114}{1048}\xF{1130}{612}{1234}{700}
\xT{1123}{706}{1241}{737}\xT{1123}{750}{1241}{766}\xT{1123}{766}{1241}{837}\xG{1123}{845}{1157}{852}
\xT{1123}{852}{1241}{895}\xT{1123}{895}{1241}{952}\xT{1123}{952}{1241}{1048}
\xP{1292}{584}{1585}{1080}
\xG{1322}{633}{1337}{643}\xT{1322}{643}{1432}{688}\xT{1322}{688}{1432}{793}\xT{1322}{793}{1432}{845}
\xL{1324}{852}{1432}{877}\xT{1322}{882}{1432}{898}\xT{1438}{633}{1550}{653}\xG{1438}{658}{1455}{667}
\xT{1438}{667}{1550}{719}\xT{1438}{719}{1550}{808}\xG{1438}{822}{1455}{830}\xT{1438}{831}{1550}{859}
\xT{1438}{859}{1550}{898}\xF{1322}{909}{1550}{1027}\xT{1324}{1031}{1361}{1036}
\end{scope}
\begin{scope}[shift={(615,1462)},Rcol]
\lgbox{r1}{lfig}{18}{66}{241}{128}{figure}\lgcnt{r1c}{257}{93}{x 2}
\lgbox{r2}{ltxt}{18}{141}{241}{203}{text}\lgcnt{r2c}{257}{173}{x 9}
\lgbox{r3}{lttl}{18}{216}{241}{278}{title}\lgcnt{r3c}{257}{256}{x 3}
\xP{351}{42}{640}{545}
\xF{408}{75}{582}{190}\xT{371}{194}{620}{211}\xG{371}{224}{400}{232}\xT{371}{232}{489}{344}
\xT{497}{225}{620}{244}\xT{497}{244}{620}{278}\xG{497}{288}{522}{296}\xT{497}{296}{620}{334}
\xT{497}{334}{620}{359}\xG{371}{353}{404}{361}\xT{371}{361}{489}{390}\xT{497}{361}{620}{390}
\xF{408}{405}{582}{500}\xT{371}{502}{620}{516}
\xP{665}{38}{953}{545}
\xF{683}{72}{800}{182}\xT{683}{189}{802}{214}\xT{683}{219}{802}{280}\xT{683}{280}{802}{323}
\xF{683}{327}{802}{440}\xT{683}{440}{802}{509}\xT{810}{70}{931}{139}\xT{810}{139}{931}{221}
\xG{810}{229}{927}{245}\xT{810}{245}{931}{310}\xT{810}{310}{931}{362}\xG{810}{370}{869}{378}
\xG{810}{376}{912}{387}\xT{810}{387}{931}{509}
\xP{978}{38}{1266}{545}
\xF{1005}{93}{1236}{163}\xT{1009}{171}{1234}{197}\xT{1005}{209}{1116}{241}\xT{1005}{241}{1116}{332}
\xG{1005}{336}{1029}{345}\xG{1005}{345}{1038}{353}\xT{1005}{351}{1116}{389}\xF{1005}{402}{1116}{464}
\xT{1009}{464}{1112}{489}\xT{1124}{209}{1236}{256}\xT{1124}{256}{1236}{346}\xG{1124}{351}{1161}{361}
\xT{1124}{361}{1236}{439}\xT{1130}{446}{1234}{493}
\xP{1292}{35}{1585}{530}
\xF{1314}{66}{1430}{260}\xT{1314}{260}{1430}{283}\xF{1438}{66}{1553}{123}\xT{1438}{126}{1553}{152}
\xT{1438}{164}{1553}{280}\xT{1314}{303}{1430}{331}\xG{1438}{303}{1463}{311}\xG{1438}{318}{1498}{331}
\xG{1314}{341}{1430}{355}\xT{1314}{365}{1430}{463}\xT{1314}{463}{1430}{478}\xT{1438}{342}{1553}{372}
\xT{1438}{372}{1553}{434}\xT{1438}{434}{1553}{478}
\end{scope}
\end{tikzpicture}
\end{document}
